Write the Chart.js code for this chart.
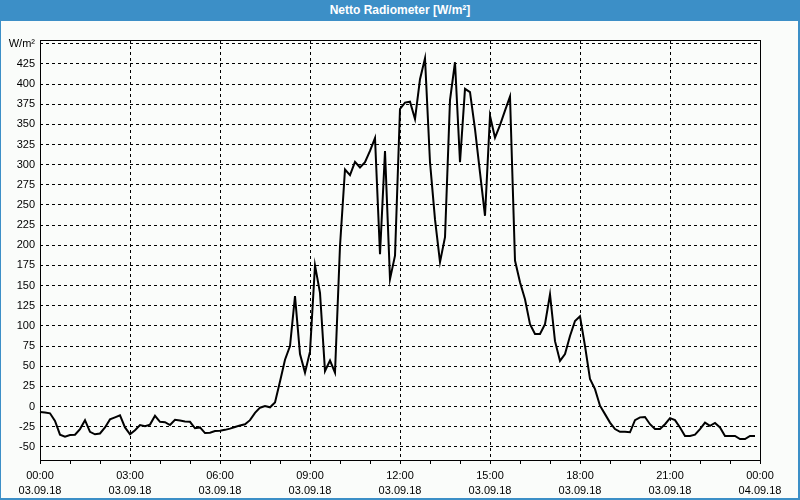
<!DOCTYPE html>
<html><head><meta charset="utf-8">
<script src="https://cdn.jsdelivr.net/npm/chart.js@4.4.0/dist/chart.umd.min.js"></script>
<style>
html,body{margin:0;padding:0;background:#fafcfa;}
#wrap{position:relative;width:800px;height:500px;overflow:hidden;background:#fafcfa;}
#bar{position:absolute;left:0;top:0;width:800px;height:21px;background:#3c8fc7;color:#fff;font:bold 12px "Liberation Sans",Arial,sans-serif;line-height:21px;text-align:center;}
#frame{position:absolute;left:0;top:0;width:800px;height:500px;box-sizing:border-box;border:1px solid #3c8fc7;border-top:none;border-right-width:2px;border-bottom-width:2px;pointer-events:none;}
canvas{position:absolute;left:0;top:0;}
</style></head>
<body><div id="wrap"><canvas id="c" width="800" height="500"></canvas><div id="bar">Netto Radiometer [W/m²]</div><div id="frame"></div></div>
<script>
const timeLabels = [
"00:00","00:10","00:20","00:30","00:40","00:50",
"01:00","01:10","01:20","01:30","01:40","01:50",
"02:00","02:10","02:20","02:30","02:40","02:50",
"03:00","03:10","03:20","03:30","03:40","03:50",
"04:00","04:10","04:20","04:30","04:40","04:50",
"05:00","05:10","05:20","05:30","05:40","05:50",
"06:00","06:10","06:20","06:30","06:40","06:50",
"07:00","07:10","07:20","07:30","07:40","07:50",
"08:00","08:10","08:20","08:30","08:40","08:50",
"09:00","09:10","09:20","09:30","09:40","09:50",
"10:00","10:10","10:20","10:30","10:40","10:50",
"11:00","11:10","11:20","11:30","11:40","11:50",
"12:00","12:10","12:20","12:30","12:40","12:50",
"13:00","13:10","13:20","13:30","13:40","13:50",
"14:00","14:10","14:20","14:30","14:40","14:50",
"15:00","15:10","15:20","15:30","15:40","15:50",
"16:00","16:10","16:20","16:30","16:40","16:50",
"17:00","17:10","17:20","17:30","17:40","17:50",
"18:00","18:10","18:20","18:30","18:40","18:50",
"19:00","19:10","19:20","19:30","19:40","19:50",
"20:00","20:10","20:20","20:30","20:40","20:50",
"21:00","21:10","21:20","21:30","21:40","21:50",
"22:00","22:10","22:20","22:30","22:40","22:50",
"23:00","23:10","23:20","23:30","23:40","23:50",
"00:00"];
const dateLabels = ["03.09.18", "04.09.18"];
const netRadiation = [
-7,-7.5,-8.5,-18,-35,-37.5,
-35.5,-35,-28,-17,-31.5,-34.5,
-33.5,-26,-16,-13.5,-11,-26,
-34.5,-29.5,-23,-24.5,-22.5,-11.5,
-19,-19.5,-23,-16.5,-17.5,-18.5,
-19,-27,-26,-33,-32.5,-30.5,
-30,-29,-27.5,-25.5,-23.5,-22,
-17,-8,-1.5,0.5,-1,5,
31,58,75,137,65,42,
68,175,141,44,57,42,
199,294,287,303.5,296.5,303,
317,333,189,317,158,187,
369,377,378,356.5,406,432,
303,232,179,210,380,427,
303,394,390,344,290,236.5,
360.5,333.5,349,367,384.5,181,
154,133,102,90,90,102,
139,81,56.5,65,87.5,106,
112,75,34,21.5,1,-9.5,
-20,-28,-31.5,-31.5,-32,-17,
-13.5,-13,-22,-28,-28,-22,
-14.5,-17,-26,-36.5,-36.5,-35,
-28,-20,-24,-20.5,-26,-36.5,
-36.5,-36.5,-40.5,-40.5,-36.5,-36.5];
const unitLabel = "W/m²";
const yMin = -66.4, yMax = 454.6, yStep = 25;

Chart.defaults.font.family = '"Liberation Sans", Arial, sans-serif';
Chart.defaults.font.size = 11;
Chart.defaults.color = '#000';

const framePlugin = {
  id: 'frame',
  afterDraw(chart) {
    const a = chart.chartArea, ctx = chart.ctx;
    ctx.save();
    ctx.strokeStyle = '#000';
    ctx.lineWidth = 1;
    ctx.setLineDash([]);
    ctx.strokeRect(Math.round(a.left) + 0.5, Math.round(a.top) + 0.5, Math.round(a.right - a.left), Math.round(a.bottom - a.top));
    ctx.restore();
  }
};

new Chart(document.getElementById('c'), {
  type: 'line',
  data: {
    labels: timeLabels,
    datasets: [{
      data: netRadiation,
      borderColor: '#000',
      borderWidth: 2,
      pointRadius: 0,
      tension: 0,
      fill: false
    }]
  },
  options: {
    responsive: false,
    animation: false,
    devicePixelRatio: 1,
    layout: { padding: { left: 0, right: 40, top: 40, bottom: 0 } },
    plugins: { legend: { display: false }, tooltip: { enabled: false }, title: { display: false } },
    scales: {
      x: {
        type: 'category',
        offset: false,
        afterFit(s) { s.height = 40; },
        grid: {
          drawOnChartArea: true,
          drawTicks: true,
          tickLength: 4,
          color: (c) => (c.index % 18 === 0 ? '#000' : 'rgba(0,0,0,0)'),
          tickColor: (c) => (c.index % 6 === 0 ? '#000' : 'rgba(0,0,0,0)'),
          lineWidth: 1
        },
        border: { display: false, dash: [3, 3] },
        ticks: {
          autoSkip: false,
          maxRotation: 0,
          minRotation: 0,
          padding: 5,
          font: { size: 11, lineHeight: 1.35 },
          callback(value, index) {
            if (index % 18 !== 0) return '';
            return [timeLabels[index], index === timeLabels.length - 1 ? dateLabels[1] : dateLabels[0]];
          }
        }
      },
      y: {
        type: 'linear',
        min: yMin,
        max: yMax,
        afterFit(s) { s.width = 40; },
        grid: { color: '#000', lineWidth: 1, drawTicks: false },
        border: { display: false, dash: [3, 3] },
        ticks: {
          stepSize: yStep,
          includeBounds: false,
          padding: 5,
          callback(v) { return v === 450 ? unitLabel : String(v); }
        }
      }
    }
  },
  plugins: [framePlugin]
});
</script>
</body></html>
